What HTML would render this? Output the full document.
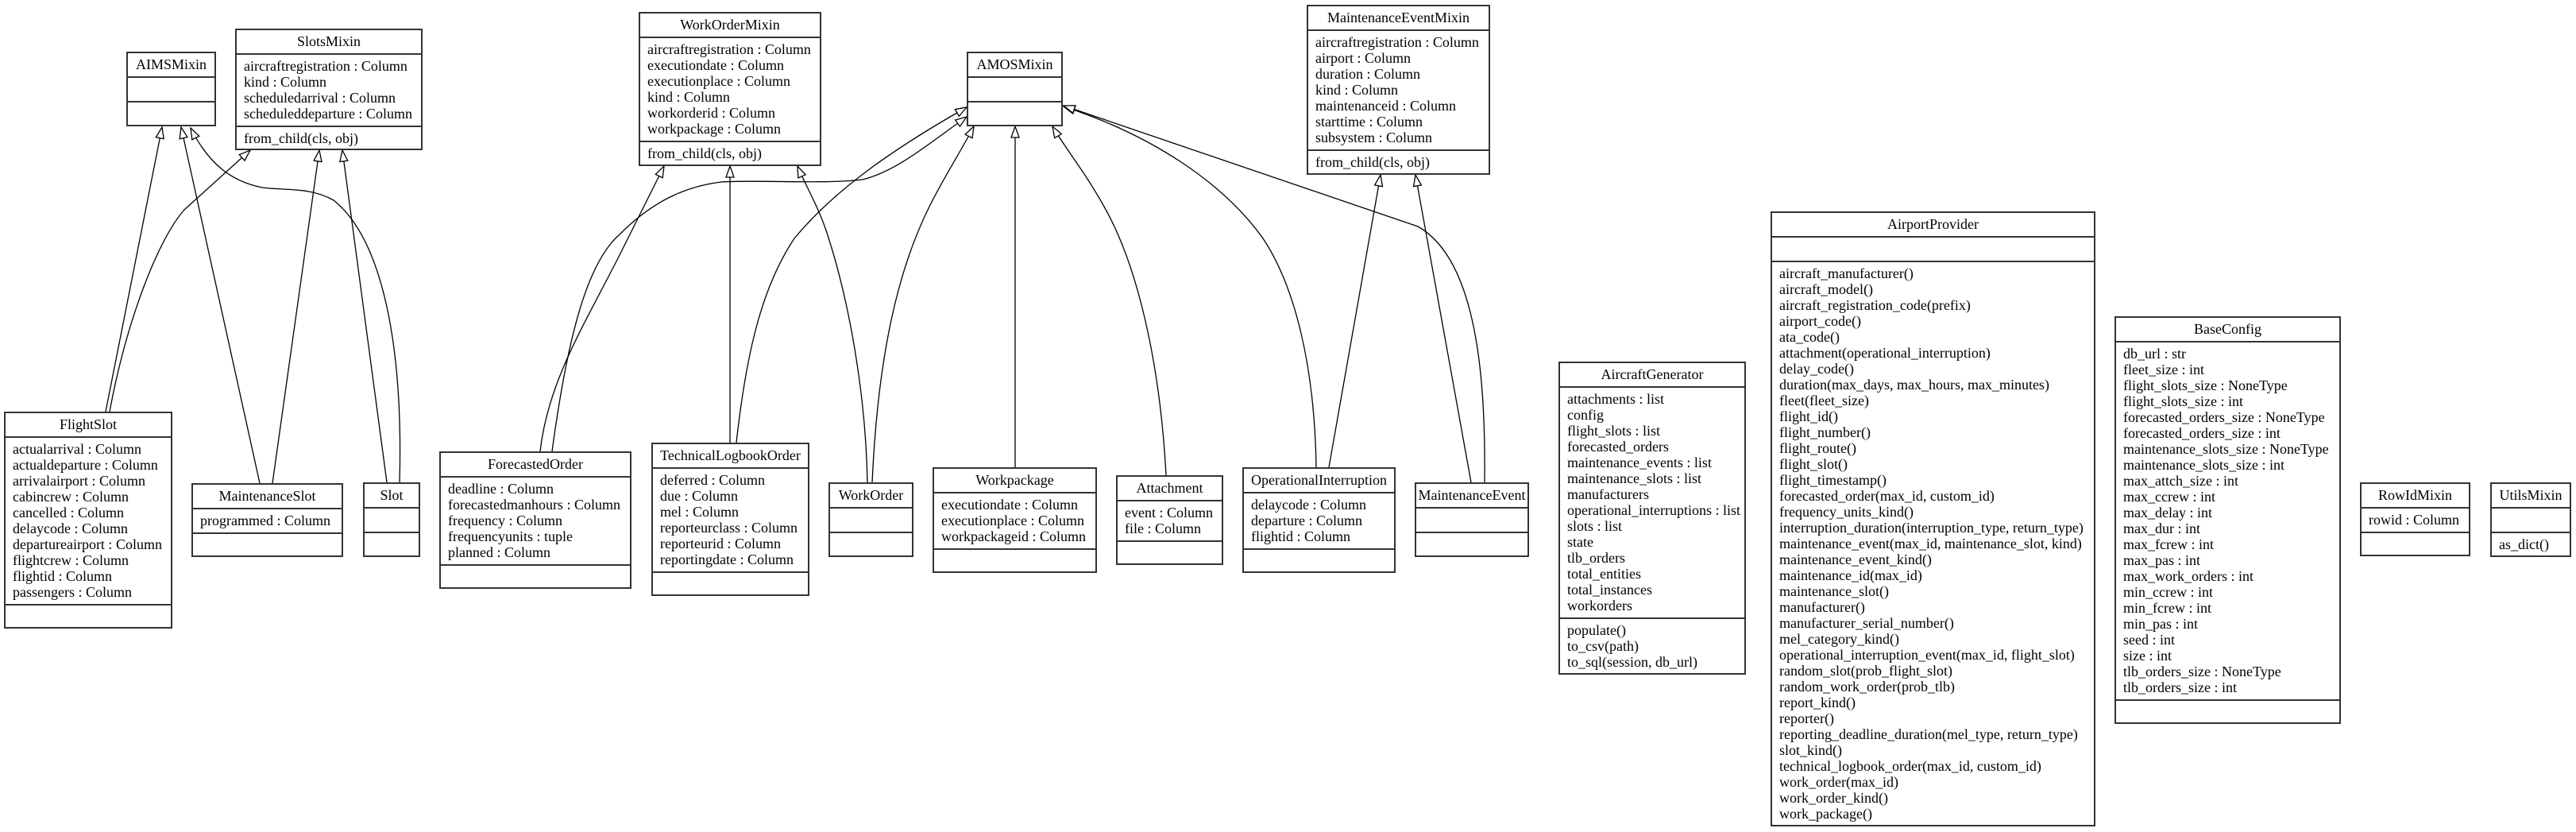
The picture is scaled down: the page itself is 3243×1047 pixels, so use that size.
<!DOCTYPE html>
<html><head><meta charset="utf-8"><style>
body{margin:0;width:3243px;height:1047px;background:#fff;position:relative;overflow:hidden;font-family:"Liberation Serif",serif;font-size:18px;color:#000}
svg{position:absolute;left:0;top:0}
.b{position:absolute;border:2px solid #333;background:#fff;box-sizing:border-box;overflow:hidden;white-space:nowrap}
.h{height:29px;line-height:29px;text-align:center;border-bottom:2px solid #333}
.s{padding:4px 9px 5px;line-height:20px;min-height:20px;border-bottom:2px solid #333}
.s:last-child{border-bottom:none}
</style></head><body>
<svg width="3243" height="1047" viewBox="0 0 3243 1047">
<defs><marker id="a" markerUnits="userSpaceOnUse" markerWidth="16" markerHeight="12" refX="15" refY="6" orient="auto"><path d="M1,1 L15,6 L1,11 Z" fill="#fff" stroke="#000" stroke-width="1.3"/></marker></defs>
<g fill="none" stroke="#000" stroke-width="1.3" marker-end="url(#a)">
<path d="M133,518 L204,160"/>
<path d="M138,518 C160,400 200,300 232,264 L315,189"/>
<path d="M327,608 L228,160"/>
<path d="M343,608 L402,189"/>
<path d="M487,607 L431,189"/>
<path d="M503,607 C508,430 480,300 420,252 C390,235 360,240 330,236 C290,228 262,205 240,161"/>
<path d="M680,568 C690,480 735,410 780,321 L836,209"/>
<path d="M695,568 C715,420 740,330 780,295 C820,255 860,235 908,229 C950,226 1035,232 1086,226 C1130,215 1170,180 1217,147"/>
<path d="M919,557 L919,209"/>
<path d="M927,557 C940,440 960,360 1000,300 C1050,240 1120,190 1217,135"/>
<path d="M1092,607 C1090,500 1070,380 1040,290 C1030,260 1015,235 1004,209"/>
<path d="M1098,607 C1105,450 1130,340 1170,260 C1190,220 1210,190 1226,159"/>
<path d="M1278,588 L1278,159"/>
<path d="M1468,598 C1460,450 1430,330 1390,260 C1365,215 1340,185 1325,159"/>
<path d="M1657,588 C1655,460 1630,360 1590,300 C1540,230 1450,170 1339,134"/>
<path d="M1673,588 L1738,220"/>
<path d="M1869,607 C1870,500 1865,330 1785,285 L1339,133"/>
<path d="M1852,607 L1782,220"/>
</g>
</svg>

<div class="b" style="left:159px;top:65px;width:113px;height:94px"><div class="h">AIMSMixin</div><div class="s"></div><div class="s"></div></div>
<div class="b" style="left:296px;top:36px;width:236px;height:153px"><div class="h">SlotsMixin</div><div class="s">aircraftregistration : Column<br>kind : Column<br>scheduledarrival : Column<br>scheduleddeparture : Column</div><div class="s">from_child(cls, obj)</div></div>
<div class="b" style="left:5px;top:518px;width:212px;height:273px"><div class="h">FlightSlot</div><div class="s">actualarrival : Column<br>actualdeparture : Column<br>arrivalairport : Column<br>cabincrew : Column<br>cancelled : Column<br>delaycode : Column<br>departureairport : Column<br>flightcrew : Column<br>flightid : Column<br>passengers : Column</div><div class="s"></div></div>
<div class="b" style="left:241px;top:608px;width:191px;height:93px"><div class="h">MaintenanceSlot</div><div class="s">programmed : Column</div><div class="s"></div></div>
<div class="b" style="left:457px;top:607px;width:72px;height:94px"><div class="h">Slot</div><div class="s"></div><div class="s"></div></div>
<div class="b" style="left:553px;top:568px;width:242px;height:173px"><div class="h">ForecastedOrder</div><div class="s">deadline : Column<br>forecastedmanhours : Column<br>frequency : Column<br>frequencyunits : tuple<br>planned : Column</div><div class="s"></div></div>
<div class="b" style="left:804px;top:15px;width:230px;height:194px"><div class="h">WorkOrderMixin</div><div class="s">aircraftregistration : Column<br>executiondate : Column<br>executionplace : Column<br>kind : Column<br>workorderid : Column<br>workpackage : Column</div><div class="s">from_child(cls, obj)</div></div>
<div class="b" style="left:820px;top:557px;width:199px;height:193px"><div class="h">TechnicalLogbookOrder</div><div class="s">deferred : Column<br>due : Column<br>mel : Column<br>reporteurclass : Column<br>reporteurid : Column<br>reportingdate : Column</div><div class="s"></div></div>
<div class="b" style="left:1217px;top:65px;width:121px;height:94px"><div class="h">AMOSMixin</div><div class="s"></div><div class="s"></div></div>
<div class="b" style="left:1645px;top:6px;width:231px;height:214px"><div class="h">MaintenanceEventMixin</div><div class="s">aircraftregistration : Column<br>airport : Column<br>duration : Column<br>kind : Column<br>maintenanceid : Column<br>starttime : Column<br>subsystem : Column</div><div class="s">from_child(cls, obj)</div></div>
<div class="b" style="left:1043px;top:607px;width:107px;height:94px"><div class="h">WorkOrder</div><div class="s"></div><div class="s"></div></div>
<div class="b" style="left:1174px;top:588px;width:207px;height:133px"><div class="h">Workpackage</div><div class="s">executiondate : Column<br>executionplace : Column<br>workpackageid : Column</div><div class="s"></div></div>
<div class="b" style="left:1405px;top:598px;width:135px;height:113px"><div class="h">Attachment</div><div class="s">event : Column<br>file : Column</div><div class="s"></div></div>
<div class="b" style="left:1564px;top:588px;width:193px;height:133px"><div class="h">OperationalInterruption</div><div class="s">delaycode : Column<br>departure : Column<br>flightid : Column</div><div class="s"></div></div>
<div class="b" style="left:1781px;top:607px;width:144px;height:94px"><div class="h">MaintenanceEvent</div><div class="s"></div><div class="s"></div></div>
<div class="b" style="left:1962px;top:455px;width:236px;height:394px"><div class="h">AircraftGenerator</div><div class="s">attachments : list<br>config<br>flight_slots : list<br>forecasted_orders<br>maintenance_events : list<br>maintenance_slots : list<br>manufacturers<br>operational_interruptions : list<br>slots : list<br>state<br>tlb_orders<br>total_entities<br>total_instances<br>workorders</div><div class="s">populate()<br>to_csv(path)<br>to_sql(session, db_url)</div></div>
<div class="b" style="left:2229px;top:266px;width:409px;height:774px"><div class="h">AirportProvider</div><div class="s"></div><div class="s">aircraft_manufacturer()<br>aircraft_model()<br>aircraft_registration_code(prefix)<br>airport_code()<br>ata_code()<br>attachment(operational_interruption)<br>delay_code()<br>duration(max_days, max_hours, max_minutes)<br>fleet(fleet_size)<br>flight_id()<br>flight_number()<br>flight_route()<br>flight_slot()<br>flight_timestamp()<br>forecasted_order(max_id, custom_id)<br>frequency_units_kind()<br>interruption_duration(interruption_type, return_type)<br>maintenance_event(max_id, maintenance_slot, kind)<br>maintenance_event_kind()<br>maintenance_id(max_id)<br>maintenance_slot()<br>manufacturer()<br>manufacturer_serial_number()<br>mel_category_kind()<br>operational_interruption_event(max_id, flight_slot)<br>random_slot(prob_flight_slot)<br>random_work_order(prob_tlb)<br>report_kind()<br>reporter()<br>reporting_deadline_duration(mel_type, return_type)<br>slot_kind()<br>technical_logbook_order(max_id, custom_id)<br>work_order(max_id)<br>work_order_kind()<br>work_package()</div></div>
<div class="b" style="left:2662px;top:398px;width:285px;height:513px"><div class="h">BaseConfig</div><div class="s">db_url : str<br>fleet_size : int<br>flight_slots_size : NoneType<br>flight_slots_size : int<br>forecasted_orders_size : NoneType<br>forecasted_orders_size : int<br>maintenance_slots_size : NoneType<br>maintenance_slots_size : int<br>max_attch_size : int<br>max_ccrew : int<br>max_delay : int<br>max_dur : int<br>max_fcrew : int<br>max_pas : int<br>max_work_orders : int<br>min_ccrew : int<br>min_fcrew : int<br>min_pas : int<br>seed : int<br>size : int<br>tlb_orders_size : NoneType<br>tlb_orders_size : int</div><div class="s"></div></div>
<div class="b" style="left:2971px;top:607px;width:139px;height:93px"><div class="h">RowIdMixin</div><div class="s">rowid : Column</div><div class="s"></div></div>
<div class="b" style="left:3135px;top:607px;width:102px;height:94px"><div class="h">UtilsMixin</div><div class="s"></div><div class="s">as_dict()</div></div>
</body></html>
